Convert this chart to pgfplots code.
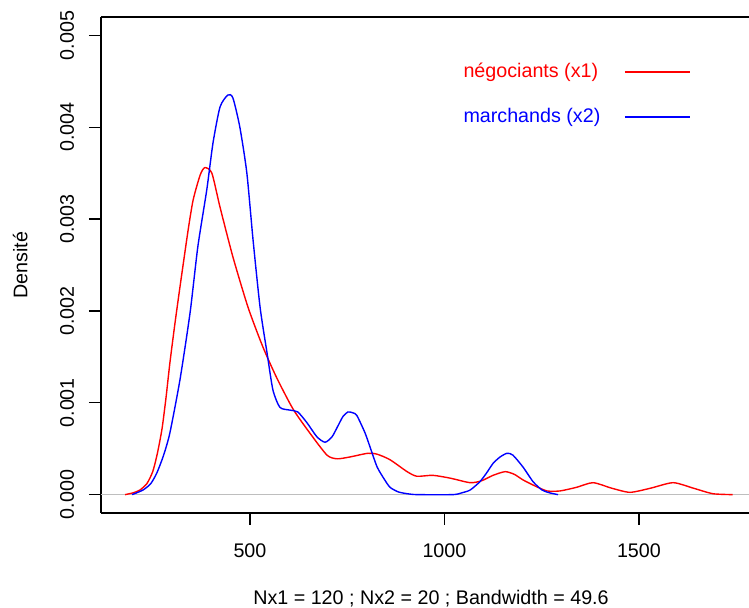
\documentclass[border=0pt]{standalone}
\usepackage{fontspec}
\setmainfont{Liberation Sans}
\usepackage{pgfplots}
\pgfplotsset{compat=1.18}
\usepackage{pgfplotstable}

\pgfplotstableread{
x y
179 0.00000
200 0.00002
217 0.00005
235 0.00012
250 0.00025
262 0.00045
274 0.00072
284 0.00105
294 0.00143
307 0.00186
320 0.00226
341 0.00288
354 0.00321
372 0.00348
384 0.00356
402 0.00350
423 0.00313
456 0.00259
495 0.00204
533 0.00161
569 0.00127
611 0.00093
654 0.00067
698 0.00043
724 0.00039
757 0.00041
803 0.00045
827 0.00044
860 0.00038
904 0.00025
929 0.00020
970 0.00021
1014 0.00018
1066 0.00013
1095 0.00015
1125 0.00021
1156 0.00025
1180 0.00022
1202 0.00016
1235 0.00009
1264 0.00004
1297 0.00004
1340 0.00008
1382 0.00013
1430 0.00007
1477 0.000025
1530 0.00007
1588 0.00013
1640 0.00007
1690 0.00001
1741 0.00000
}\redtab

\pgfplotstableread{
x y
197 0.00000
225 0.00005
245 0.00012
261 0.00024
278 0.00043
294 0.00067
320 0.00125
346 0.00198
366 0.00270
389 0.00332
405 0.00383
423 0.00422
443 0.00435
456 0.00432
474 0.00400
492 0.00350
508 0.00277
526 0.00204
544 0.00154
559 0.00114
577 0.00095
603 0.00092
623 0.00090
647 0.00078
672 0.00063
693 0.00057
711 0.00063
724 0.00073
739 0.00085
752 0.00090
765 0.00089
775 0.00086
796 0.00067
811 0.00049
827 0.00030
845 0.00017
860 0.00008
881 0.00003
904 0.00001
930 0.00000
1022 0.00000
1045 0.00002
1066 0.00005
1091 0.00014
1109 0.00024
1125 0.00034
1143 0.00041
1161 0.00045
1176 0.00043
1202 0.00030
1228 0.00014
1251 0.00005
1270 0.00002
1292 0.00000
}\bluetab

\begin{document}
\fontsize{9.85}{11.8}\selectfont
\begin{tikzpicture}
\begin{axis}[
  name=ax, at={(0,0)}, anchor=south west,
  scale only axis, width=324pt, height=248pt,
  xmin=117, xmax=1783, ymin=-0.0002, ymax=0.0052,
  axis x line*=bottom, axis y line*=left,
  axis line style={black, line width=0.6pt},
  tick align=outside, major tick length=6pt,
  tick style={black, line width=0.6pt},
  xtick={500,1000,1500}, xticklabels={500,1000,1500},
  ytick={0,0.001,0.002,0.003,0.004,0.005},
  yticklabels={0.000,0.001,0.002,0.003,0.004,0.005},
  scaled y ticks=false, scaled x ticks=false,
  /pgf/number format/assume math mode=true,
  ticklabel style={font=\fontsize{9.85}{11.8}\selectfont},
  xticklabel style={anchor=base, yshift=-16.5pt},
  yticklabel style={rotate=90, anchor=base},
  yticklabel shift=7.5pt,
  every axis plot/.append style={line width=0.7pt},
]
\addplot[color={rgb,255:red,190;green,190;blue,190}, line width=0.6pt] coordinates {(117,0) (1783,0)};
\addplot[red, smooth, tension=0.4] table[x=x,y=y] {\redtab};
\addplot[blue, smooth, tension=0.4] table[x=x,y=y] {\bluetab};
\draw[black, line width=0.6pt] (rel axis cs:0,1) -- (rel axis cs:1,1);
\node[anchor=base west, text=red, inner sep=0pt] at (axis cs:1048,0.004536) {négociants (x1)};
\draw[red, line width=0.7pt] (axis cs:1464,0.004601) -- (axis cs:1631,0.004601);
\node[anchor=base west, text=blue, inner sep=0pt] at (axis cs:1048,0.004046) {marchands (x2)};
\draw[blue, line width=0.7pt] (axis cs:1464,0.004111) -- (axis cs:1631,0.004111);
\end{axis}
\node[rotate=90, anchor=base, inner sep=0pt] at (-36.75pt,124pt) {Densité};
\node[anchor=base, inner sep=0pt] at (165pt,-46pt) {Nx1 = 120 ; Nx2 = 20 ; Bandwidth = 49.6};
\pgfresetboundingbox
\path (-50.5pt,-47.5pt) rectangle (324pt,256.5pt);
\end{tikzpicture}
\end{document}
